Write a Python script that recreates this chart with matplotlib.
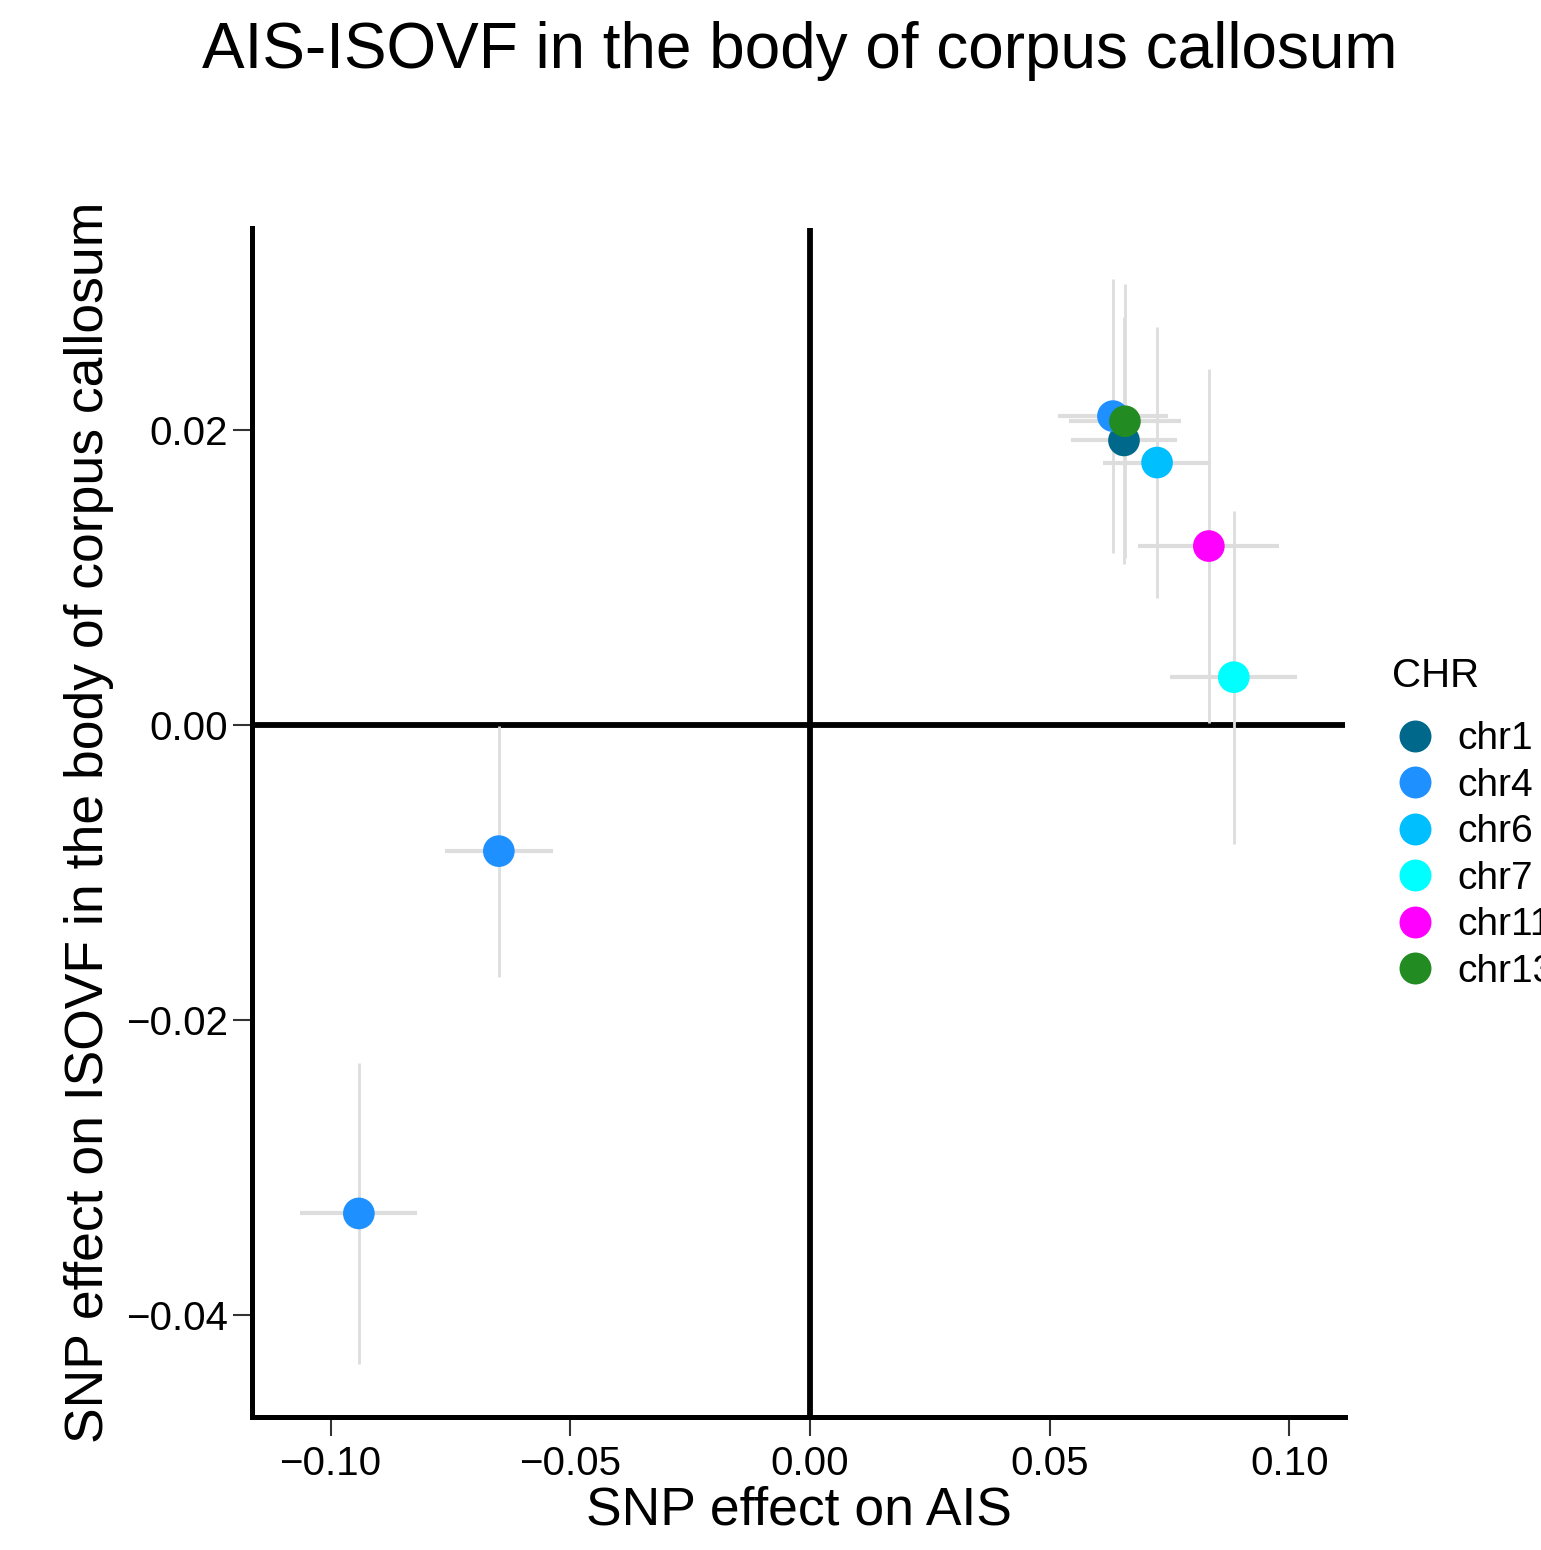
import matplotlib
matplotlib.use("Agg")
import matplotlib.pyplot as plt
from matplotlib.lines import Line2D
from matplotlib.ticker import FixedLocator, FuncFormatter

plt.rcParams['font.family'] = ['Liberation Sans', 'DejaVu Sans']

# Data
chr_labels = ["chr1", "chr4", "chr4", "chr4", "chr6", "chr7", "chr11", "chr13"]
beta_ais = [0.0655, 0.0632, -0.0649, -0.0941, 0.0724, 0.0884, 0.0832, 0.0657]
se_ais_half = [0.0111, 0.0115, 0.0112, 0.0122, 0.0113, 0.0132, 0.0147, 0.0116]
beta_isovf = [0.0193, 0.02095, -0.00854, -0.0331, 0.0178, 0.00325, 0.01214, 0.0206]
se_isovf_half = [0.0084, 0.0093, 0.0085, 0.0102, 0.0092, 0.0113, 0.0120, 0.0093]

legend_levels = ["chr1", "chr4", "chr6", "chr7", "chr11", "chr13"]
level_colors = ["#00688B", "#1E90FF", "#00BFFF", "#00FFFF", "#FF00FF", "#228B22"]
color_map = dict(zip(legend_levels, level_colors))

x_ticks = [-0.10, -0.05, 0.00, 0.05, 0.10]
y_ticks = [-0.04, -0.02, 0.00, 0.02]

fig = plt.figure(figsize=(15.41, 15.50), dpi=100)
ax = fig.add_axes([0.1635, 0.0858, 0.8728 - 0.1635, 0.8529 - 0.0858])

ax.set_xlim(-0.1164, 0.1116)
ax.set_ylim(-0.0469, 0.0337)

# reference lines
ax.axvline(0, color="black", lw=4.2, zorder=1)
ax.axhline(0, color="black", lw=4.2, zorder=1)

# error bars
for x, xe, y, ye in zip(beta_ais, se_ais_half, beta_isovf, se_isovf_half):
    ax.plot([x - xe, x + xe], [y, y], color="#DDDDDD", lw=3.0, solid_capstyle="butt", zorder=2)
for x, xe, y, ye in zip(beta_ais, se_ais_half, beta_isovf, se_isovf_half):
    ax.plot([x, x], [y - ye, y + ye], color="#DDDDDD", lw=2.0, solid_capstyle="butt", zorder=2)

# points in level order
for lvl in legend_levels:
    xs = [x for x, c in zip(beta_ais, chr_labels) if c == lvl]
    ys = [y for y, c in zip(beta_isovf, chr_labels) if c == lvl]
    ax.scatter(xs, ys, s=520, color=color_map[lvl], edgecolors="none", zorder=3)

for side in ["top", "right"]:
    ax.spines[side].set_visible(False)
for side in ["left", "bottom"]:
    ax.spines[side].set_linewidth(3.6)
    ax.spines[side].set_color("black")

fmt = FuncFormatter(lambda v, p: f"{v:.2f}".replace("-", "\u2212"))
ax.xaxis.set_major_locator(FixedLocator(x_ticks))
ax.yaxis.set_major_locator(FixedLocator(y_ticks))
ax.xaxis.set_major_formatter(fmt)
ax.yaxis.set_major_formatter(fmt)
ax.tick_params(axis="both", length=14, width=1.5, color="#333333", labelsize=29, labelcolor="black")
ax.tick_params(axis="x", pad=6)
ax.tick_params(axis="y", pad=3)

ax.set_xlabel("SNP effect on AIS", fontsize=38.5, labelpad=2)
ax.set_ylabel("SNP effect on ISOVF in the body of corpus callosum", fontsize=38.5, labelpad=9)

fig.text(0.519, 0.967, "AIS-ISOVF in the body of corpus callosum", fontsize=46,
         ha="center", va="center")

# legend title and entries
fig.text(1392 / 1541, 1 - 687 / 1550, "CHR", fontsize=29, ha="left", va="baseline")
handles = [Line2D([0], [0], marker="o", linestyle="none", markersize=23,
                  markerfacecolor=c, markeredgecolor="none") for c in level_colors]
leg = fig.legend(handles, legend_levels, loc="upper left",
                 bbox_to_anchor=(0.893, 0.5448), frameon=False, fontsize=28,
                 handletextpad=0.5, labelspacing=0.27,
                 borderaxespad=0, handlelength=1.2)

fig.savefig("out.png", dpi=100)
